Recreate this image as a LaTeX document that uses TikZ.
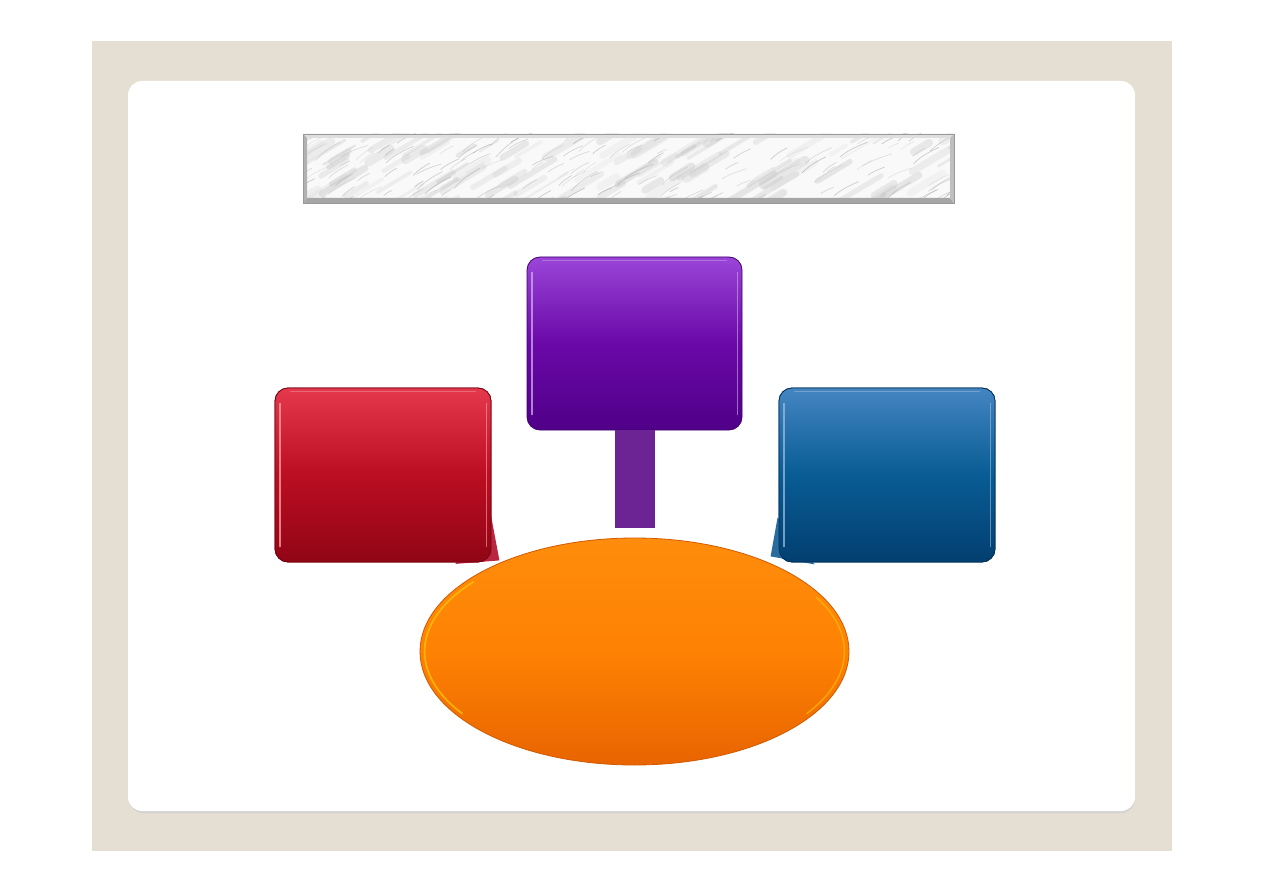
\documentclass[tikz,border=0pt]{standalone}
\usetikzlibrary{shapes.geometric}
\definecolor{beige}{HTML}{E5DED3}
\definecolor{redtop}{HTML}{E5384C}
\definecolor{redmid}{HTML}{BC0E22}
\definecolor{redbot}{HTML}{900515}
\definecolor{purtop}{HTML}{9A45D8}
\definecolor{purmid}{HTML}{6A08A8}
\definecolor{purbot}{HTML}{4F0088}
\definecolor{blutop}{HTML}{4485C2}
\definecolor{blumid}{HTML}{085C94}
\definecolor{blubot}{HTML}{033F70}
\definecolor{orgtop}{HTML}{FF8C0C}
\definecolor{orgmid}{HTML}{FE8203}
\definecolor{orgbot}{HTML}{E86400}
\definecolor{stem}{HTML}{6C2394}
\definecolor{redtail}{HTML}{B8263F}
\definecolor{blutail}{HTML}{2A6C9E}
\tikzset{
  gbox/.style={rectangle, rounded corners=13pt, minimum width=216pt, minimum height=174pt, inner sep=0pt},
  redbox/.style={gbox, draw=redbot!80!black, line width=0.8pt, top color=redtop, bottom color=redbot, middle color=redmid},
  purbox/.style={gbox, minimum width=215pt, minimum height=173pt, draw=purbot!80!black, line width=0.8pt, top color=purtop, bottom color=purbot, middle color=purmid},
  blubox/.style={gbox, draw=blubot!80!black, line width=0.8pt, top color=blutop, bottom color=blubot, middle color=blumid},
  orgell/.style={ellipse, minimum width=429pt, minimum height=227pt, inner sep=0pt, draw=orgbot!90!black, line width=0.8pt, top color=orgtop, bottom color=orgbot, middle color=orgmid},
  marble/.style={rectangle, minimum width=651pt, minimum height=69pt, inner sep=0pt, fill=gray!5},
}
\begin{document}
\begin{tikzpicture}[x=1pt,y=-1pt]
\useasboundingbox (0,0) rectangle (1263,893);
\fill[white] (0,0) rectangle (1263,893);
% frame
\fill[beige] (92,41) rectangle (1172,851);
\fill[gray!35] (129,83) [rounded corners=14pt] rectangle (1135,813);
\fill[white, rounded corners=14pt] (128,81) rectangle (1135,811);

% marble title bar
\node[marble] (title) at (628.5,168.5) {};
\begin{scope}
\clip (303,134) rectangle (954,203);
\pgfmathsetseed{11}
\foreach \i in {1,...,110}{
  \pgfmathsetmacro{\xa}{290+rnd*680}
  \pgfmathsetmacro{\ya}{140+rnd*75}
  \pgfmathsetmacro{\len}{15+rnd*35}
  \pgfmathsetmacro{\op}{0.10+rnd*0.22}
  \pgfmathsetmacro{\lw}{2+rnd*7}
  \draw[gray!55, line width=\lw pt, opacity=\op, line cap=round] (\xa,\ya) -- ++(\len,-0.6*\len);
}
\foreach \i in {1,...,150}{
  \pgfmathsetmacro{\xa}{290+rnd*680}
  \pgfmathsetmacro{\ya}{140+rnd*75}
  \pgfmathsetmacro{\len}{8+rnd*22}
  \pgfmathsetmacro{\op}{0.2+rnd*0.4}
  \pgfmathsetmacro{\ang}{\len*(0.4+rnd*0.4)}
  \draw[gray!70, line width=0.7pt, opacity=\op, line cap=round] (\xa,\ya) .. controls +(\len/3,-\ang/2) and +(-\len/3,\ang/4) .. ++(\len,-\ang);
}
\end{scope}
\fill[gray!25] (303,134) -- (954,134) -- (950,138) -- (307,138) -- cycle;
\fill[gray!70] (303,203) -- (954,203) -- (950,198) -- (307,198) -- cycle;
\fill[gray!60] (303,134) -- (307,138) -- (307,198) -- (303,203) -- cycle;
\fill[gray!50] (954,134) -- (950,138) -- (950,198) -- (954,203) -- cycle;
\draw[gray!80, line width=0.6pt] (303,134) rectangle (954,203);

% boxes and tails
\node[redbox] (red) at (383,475) {};
\node[purbox] (pur) at (634.5,343.5) {};
\node[blubox] (blu) at (887,475) {};
\fill[redtail] ([xshift=-1pt,yshift=50pt]red.south east) -- ([xshift=8pt,yshift=2pt]red.south east) -- ([xshift=-36pt,yshift=-1.5pt]red.south east) -- cycle;
\fill[blutail] ([xshift=-1pt,yshift=45pt]blu.south west) -- ([xshift=-8pt,yshift=6pt]blu.south west) -- ([xshift=36pt,yshift=-2pt]blu.south west) -- cycle;
\node[redbox] at (red) {};
\node[blubox] at (blu) {};

% highlights
\foreach \n/\c in {red/red!35!white, pur/purtop!45!white, blu/blutop!55!white}{
  \draw[\c, line width=2pt, opacity=0.75, line cap=round]
    ([xshift=5pt,yshift=-16pt]\n.north west) -- ([xshift=5pt,yshift=16pt]\n.south west);
  \draw[\c, line width=1.6pt, opacity=0.6, line cap=round]
    ([xshift=-5pt,yshift=-16pt]\n.north east) -- ([xshift=-5pt,yshift=16pt]\n.south east);
  \draw[white, line width=0.8pt, opacity=0.25, line cap=round]
    ([xshift=16pt,yshift=-4pt]\n.north west) -- ([xshift=-16pt,yshift=-4pt]\n.north east);
}

% stem
\coordinate (stemend) at (634.5,528);
\draw[stem, line width=40pt] (pur.south) -- (stemend);

% ellipse
\node[orgell] (org) at (634.5,651.5) {};
\draw[yellow!55!orange, line width=1.8pt, opacity=0.75] ([xshift=5pt]org.west) arc[start angle=180, end angle=140, x radius=209.5pt, y radius=108.5pt];
\draw[yellow!55!orange, line width=1.8pt, opacity=0.75] ([xshift=5pt]org.west) arc[start angle=180, end angle=215, x radius=209.5pt, y radius=108.5pt];
\draw[yellow!55!orange, line width=1.5pt, opacity=0.6] ([xshift=-5pt]org.east) arc[start angle=0, end angle=30, x radius=209.5pt, y radius=108.5pt];
\draw[yellow!55!orange, line width=1.5pt, opacity=0.6] ([xshift=-5pt]org.east) arc[start angle=0, end angle=-35, x radius=209.5pt, y radius=108.5pt];
\end{tikzpicture}
\end{document}
